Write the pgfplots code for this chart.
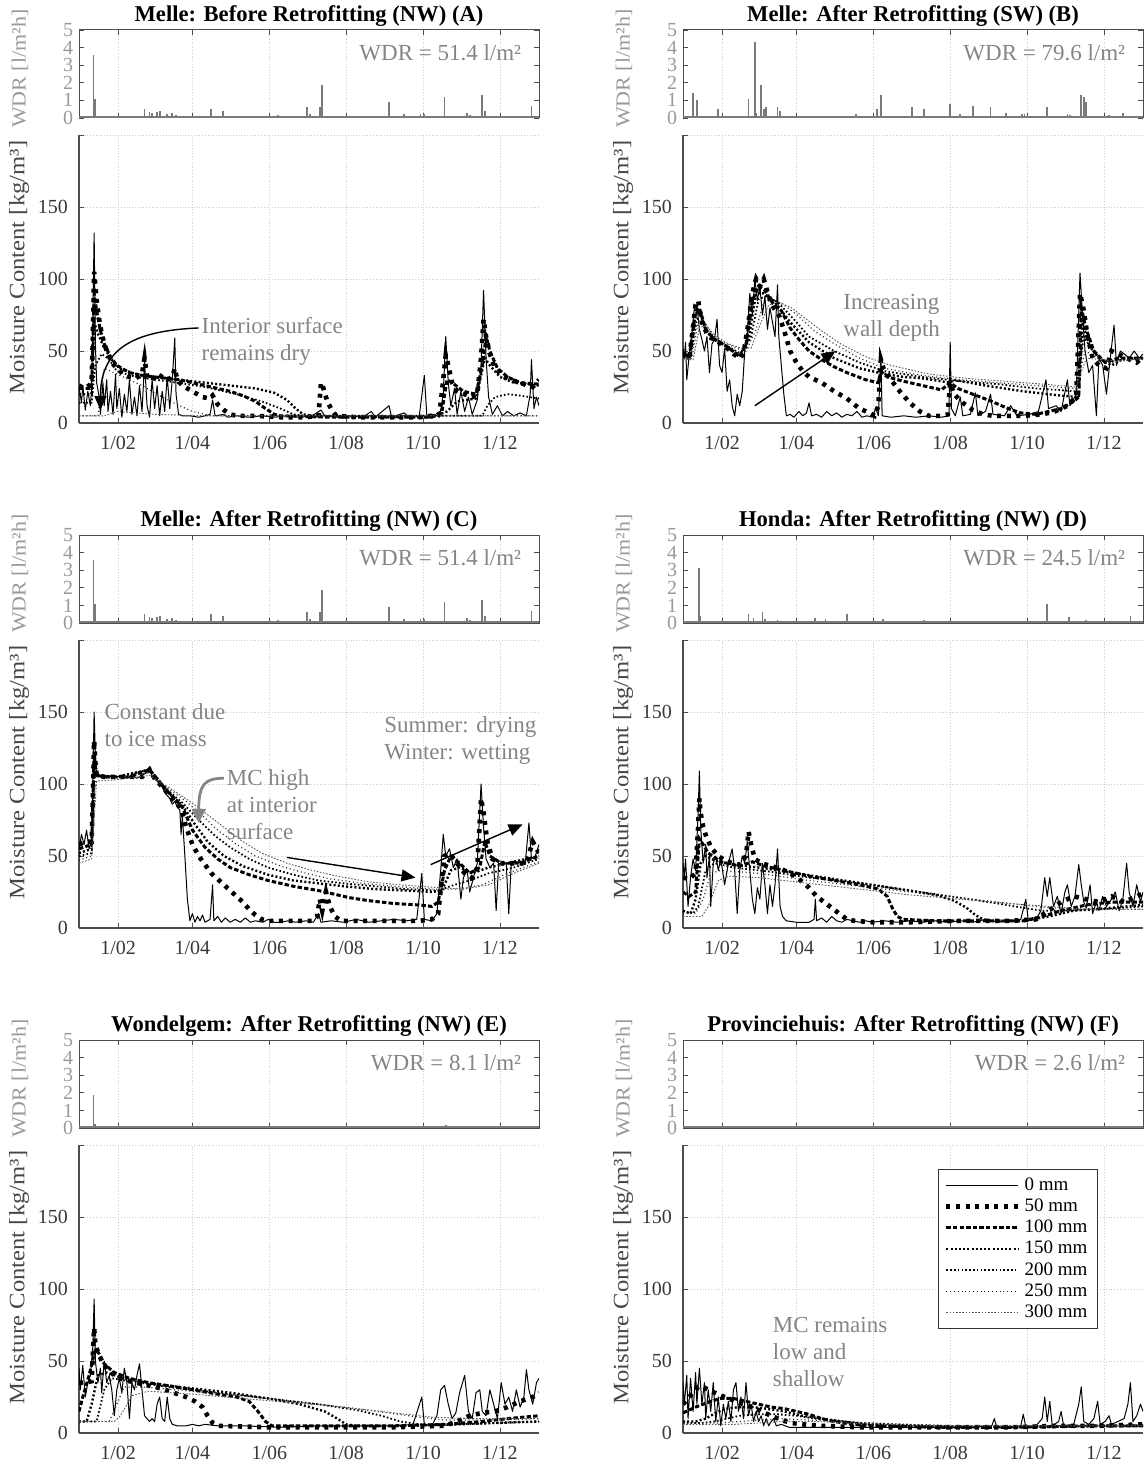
\documentclass[border=0pt]{standalone}
\usepackage{fontspec}
\setmainfont{Liberation Serif}
\usepackage{graphicx}
\usepackage{pgfplots}
\usepackage{pgfplotstable}
\pgfplotsset{compat=1.18}
\usetikzlibrary{arrows.meta}
\definecolor{bargray}{gray}{0.48}
\definecolor{axgray}{gray}{0.30}
\definecolor{notegray}{gray}{0.52}

% hourly wind-driven rain, Melle NW (panels A and C)
\pgfplotstableread{
d v
11.5 3.6
13 1.1
52 0.5
56 0.35
58 0.3
62 0.35
64 0.4
70 0.2
74 0.3
77 0.15
105 0.5
114 0.4
155 0.1
158 0.15
181 0.6
183 0.25
191 0.6
193 1.9
232 0.1
246 0.9
258 0.2
266 0.1
271 0.25
274 0.2
290 1.2
308 0.3
310 0.15
320 1.3
322 0.4
340 0.05
359 0.7
}\wdrNW

\pgfplotsset{
  base/.style={scale only axis, width=230pt, xmin=0, xmax=365,
    xtick={31,90,151,212,273,334}, tick align=inside, major tick length=2.5pt,
    /pgf/number format/assume math mode=true, clip mode=individual,
    grid style={gray!40, densely dotted, line width=0.4pt}},
  wdr/.style={base, anchor=north west, height=44pt, ymin=0, ymax=5,
    ytick={0,1,2,3,4,5}, xticklabels={}, xmajorgrids,
    axis line style={axgray, line width=0.5pt},
    every tick/.style={axgray, line width=0.4pt},
    yticklabel style={font=\fontsize{10}{10}\selectfont, text=black!40, inner sep=0.2pt, xshift=-2.5pt},
    ylabel={\scalebox{1.1}[1]{WDR [l/m²h]}},
    ylabel style={at={(axis description cs:-0.128,0.56)}, anchor=center,
      font=\fontsize{10}{12}\selectfont, text=black!40}},
  mc/.style={base, anchor=south west, height=144pt, ymin=0, ymax=200,
    ytick={0,50,100,150,200}, yticklabels={0,50,100,150,},
    xticklabels={1/02,1/04,1/06,1/08,1/10,1/12}, grid=major,
    axis x line*=bottom, axis y line*=left,
    axis line style={axgray, line width=0.6pt},
    every tick/.style={axgray, line width=0.4pt},
    ticklabel style={font=\fontsize{10}{10}\selectfont, text=black!78},
    xticklabel style={yshift=-3pt}, yticklabel style={xshift=-2pt},
    ylabel={\scalebox{1.12}[1]{Moisture Content [kg/m³]}},
    ylabel style={at={(axis description cs:-0.13,0.54)}, anchor=center,
      font=\fontsize{11}{13}\selectfont, text=black!72}},
  wdrbar/.style={ycomb, bargray, line width=0.9pt},
  wdrbase/.style={bargray, line width=1pt},
  s0/.style={black, line width=0.5pt, line join=round},
  s50/.style={black, line width=2.3pt, dash pattern=on 2pt off 2.8pt},
  s100/.style={black, line width=1.5pt, dash pattern=on 2.2pt off 1.1pt},
  s150/.style={black, line width=1.2pt, dash pattern=on 1pt off 1.1pt},
  s200/.style={black, line width=0.9pt, dash pattern=on 0.8pt off 1.1pt},
  s250/.style={black!85, line width=0.6pt, dash pattern=on 0.5pt off 1.4pt},
  s300/.style={black!65, line width=0.45pt, dash pattern=on 0.8pt off 0.8pt},
}
\tikzset{
  ptitle/.style={font=\bfseries\fontsize{11.3}{13}\selectfont},
  wdrtxt/.style={anchor=east, font=\fontsize{11.5}{13}\selectfont, text=notegray, inner sep=0pt},
  note/.style={anchor=west, align=left, font=\fontsize{11.5}{13.5}\selectfont, text=notegray, inner sep=0pt},
  blackarrow/.style={black, line width=0.7pt, -{Triangle[length=7pt,width=6pt]}},
}

\begin{document}
\begin{tikzpicture}
\path[use as bounding box] (0,0) rectangle (572pt,-732.5pt);

% ================= A =================
\node[ptitle] at (154.5pt,-8pt) {Melle: Before Retrofitting (NW) (A)};
\begin{axis}[wdr, at={(39.5pt,-15pt)}]
\addplot[wdrbar] table[x=d,y=v] {\wdrNW};
\addplot[wdrbase] coordinates {(0,0.04) (365,0.04)};
\node[wdrtxt] at (axis description cs:0.962,0.74) {WDR = 51.4 l/m²};
\end{axis}
\begin{axis}[mc, at={(39.5pt,-211.5pt)}]
\addplot[s0] coordinates {(0,25)(2,14)(3,26)(5,9)(7,22)(9,12)(10,24)(11,70)(12,132)(13,55)(14,28)(16,18)(17,6)(19,28)(20,12)(22,30)(23,8)(25,22)(27,6)(29,34)(30,10)(32,24)(34,4)(36,20)(38,8)(40,30)(42,6)(44,18)(46,5)(48,26)(50,8)(52,42)(54,12)(56,4)(58,30)(60,10)(62,26)(64,5)(66,22)(68,8)(70,32)(72,10)(74,30)(76,59)(77,20)(79,6)(82,5)(88,5)(95,4)(100,5)(104,6)(106,16)(108,5)(115,6)(118,4)(125,5)(135,4)(145,5)(155,4)(165,5)(175,4)(185,5)(192,9)(195,5)(205,4)(215,5)(225,4)(232,8)(235,4)(246,12)(248,4)(258,7)(262,4)(270,5)(274,33)(276,5)(282,6)(286,4)(289,20)(291,60)(293,28)(295,12)(298,24)(300,6)(303,22)(306,8)(309,18)(312,6)(316,16)(319,40)(321,92)(323,45)(325,18)(328,6)(332,12)(336,5)(340,8)(345,5)(350,7)(355,5)(358,20)(359,44)(361,10)(363,18)(365,12)};
\addplot[s50] coordinates {(0,26)(4,24)(8,26)(10,28)(11,60)(12,105)(13,95)(14,85)(16,72)(18,62)(20,55)(23,48)(26,42)(30,38)(35,34)(40,32)(45,31)(50,34)(52,45)(54,32)(58,30)(62,34)(66,32)(70,30)(74,32)(76,38)(78,30)(82,26)(90,22)(98,18)(104,17)(106,19)(110,13)(115,9)(120,6)(125,5)(140,5)(160,4)(180,4)(190,5)(192,28)(194,24)(197,15)(200,10)(204,5)(220,4)(250,4)(270,4)(280,5)(286,6)(289,30)(291,47)(293,40)(296,28)(300,22)(306,20)(312,18)(316,20)(319,45)(321,72)(323,60)(326,48)(330,38)(336,33)(342,30)(350,28)(356,26)(360,25)(365,30)};
\addplot[s100] coordinates {(0,24)(10,24)(12,90)(14,78)(17,64)(20,55)(25,46)(30,40)(40,35)(50,33)(60,32)(70,31)(80,30)(90,28)(100,26)(110,24)(120,22)(130,19)(140,15)(148,10)(155,6)(160,5)(200,4)(280,4)(288,8)(292,30)(296,28)(305,22)(315,20)(320,40)(323,60)(326,50)(332,38)(340,32)(350,28)(365,27)};
\addplot[s150] coordinates {(0,20)(10,20)(12,70)(15,62)(20,52)(26,44)(32,38)(45,34)(60,32)(80,30)(100,28)(120,26)(140,24)(155,21)(165,16)(172,10)(178,6)(185,5)(280,4)(292,8)(300,15)(315,17)(322,45)(326,40)(334,32)(345,28)(365,26)};
\addplot[s200] coordinates {(0,14)(10,14)(13,40)(18,48)(24,44)(30,36)(45,32)(70,29)(100,25)(125,20)(145,15)(160,10)(170,6)(180,5)(300,5)(320,5)(324,12)(330,18)(340,20)(350,19)(365,17)};
\addplot[s250] coordinates {(0,5)(15,5)(20,38)(30,34)(50,26)(70,16)(90,8)(105,5)(365,5)};
\addplot[s300] coordinates {(0,5)(20,5)(30,8)(60,6)(100,5)(365,5)};
\node[note] at (axis cs:97,57) {Interior surface\\remains dry};
\draw[blackarrow] (axis cs:95,66) .. controls (axis cs:40,64) and (axis cs:17,50) .. (axis cs:17,9);
\end{axis}

% ================= B =================
\node[ptitle] at (456.5pt,-8pt) {Melle: After Retrofitting (SW) (B)};
\begin{axis}[wdr, at={(341.5pt,-15pt)}]
\addplot[wdrbar] coordinates {(8,1.4)(11,1.0)(28,0.5)(52,1.1)(57,4.3)(58,0.3)(62,1.9)(64,0.5)(66,0.6)(75,0.6)(77,0.4)(86,0.1)(137,0.2)(154,0.5)(157,1.3)(182,0.6)(191,0.5)(212,0.8)(220,0.2)(230,0.7)(244,0.6)(256,0.3)(269,0.2)(271,0.2)(289,0.6)(305,0.2)(307,0.15)(316,1.3)(318,1.2)(320,0.9)(338,0.15)(349,0.3)};
\addplot[wdrbase] coordinates {(0,0.04) (365,0.04)};
\node[wdrtxt] at (axis description cs:0.962,0.74) {WDR = 79.6 l/m²};
\end{axis}
\begin{axis}[mc, at={(341.5pt,-211.5pt)}]
\addplot[s0] coordinates {(0,52)(1,45)(2,56)(3,30)(5,48)(7,62)(9,80)(11,82)(13,65)(15,58)(17,50)(19,60)(21,35)(23,55)(25,58)(27,72)(29,40)(31,35)(33,52)(35,22)(37,30)(39,12)(41,5)(43,20)(45,12)(47,22)(49,50)(51,62)(53,90)(55,75)(57,100)(59,85)(61,95)(63,75)(65,88)(67,65)(69,80)(71,70)(73,60)(75,96)(76,60)(78,40)(80,20)(82,5)(85,6)(88,4)(92,8)(95,5)(98,7)(100,14)(102,5)(106,6)(110,4)(114,8)(118,5)(122,7)(126,4)(130,6)(134,5)(138,8)(142,4)(146,5)(150,4)(153,10)(155,5)(157,47)(158,5)(165,4)(175,5)(185,4)(195,5)(205,4)(211,5)(212,56)(213,10)(216,5)(220,18)(222,5)(228,6)(232,21)(234,5)(240,8)(244,20)(246,6)(255,5)(260,12)(265,5)(275,6)(282,8)(288,30)(290,10)(296,12)(300,8)(305,30)(307,12)(312,20)(315,104)(317,75)(319,50)(322,35)(325,40)(328,5)(330,45)(333,40)(336,20)(339,45)(342,68)(344,40)(347,50)(350,48)(354,45)(358,50)(362,45)(365,48)};
\addplot[s50] coordinates {(0,48)(5,45)(10,82)(12,85)(15,70)(20,60)(25,58)(30,55)(35,52)(40,48)(45,45)(48,48)(52,70)(55,90)(58,100)(61,95)(64,100)(68,88)(72,80)(76,75)(80,65)(85,50)(90,42)(95,36)(100,32)(110,28)(120,22)(130,17)(140,10)(148,7)(152,5)(155,12)(157,44)(159,38)(165,30)(172,22)(180,14)(188,8)(195,5)(205,5)(210,6)(212,28)(215,20)(222,14)(230,9)(238,6)(246,5)(260,5)(270,5)(285,6)(295,8)(305,12)(312,18)(315,90)(318,78)(321,60)(325,45)(330,40)(336,38)(340,50)(345,48)(352,45)(360,42)(365,46)};
\addplot[s100] coordinates {(0,48)(5,46)(10,78)(13,80)(18,65)(25,58)(35,53)(45,46)(50,55)(55,85)(60,95)(65,92)(72,82)(78,78)(85,66)(92,58)(100,50)(110,44)(120,39)(130,35)(145,30)(155,28)(157,36)(162,32)(175,29)(190,26)(205,23)(212,28)(218,24)(230,20)(245,15)(258,10)(268,7)(280,6)(290,8)(300,10)(310,15)(314,18)(316,80)(320,65)(326,50)(335,42)(345,45)(365,45)};
\addplot[s150] coordinates {(0,47)(5,46)(10,76)(13,78)(18,64)(25,58)(35,53)(45,47)(52,58)(58,90)(64,90)(72,85)(85,70)(100,56)(120,45)(140,38)(160,34)(175,32)(190,31)(212,28)(215,30)(240,26)(270,22)(300,19)(314,18)(317,70)(322,55)(330,45)(340,40)(350,45)(365,45)};
\addplot[s200] coordinates {(0,46)(6,46)(11,72)(14,75)(20,62)(28,57)(38,52)(46,48)(54,60)(60,86)(66,88)(75,84)(88,72)(100,60)(120,50)(140,42)(160,36)(190,32)(220,29)(250,27)(280,24)(312,22)(318,60)(325,50)(335,42)(350,44)(365,45)};
\addplot[s250] coordinates {(0,45)(7,45)(12,70)(16,72)(24,60)(32,56)(42,52)(50,50)(58,65)(64,84)(70,86)(80,82)(92,74)(104,64)(120,55)(140,45)(160,38)(190,33)(220,30)(250,28)(280,26)(312,24)(319,50)(330,45)(340,42)(365,45)};
\addplot[s300] coordinates {(0,44)(8,44)(13,66)(18,68)(26,60)(36,55)(46,52)(54,52)(62,70)(68,82)(76,84)(86,80)(98,72)(110,64)(125,55)(145,46)(165,40)(195,34)(225,31)(255,29)(285,27)(312,25)(320,45)(332,44)(345,43)(365,45)};
\node[note] at (axis cs:127,73) {Increasing\\wall depth};
\draw[blackarrow] (axis cs:57,12) -- (axis cs:121,50);
\end{axis}

% ================= C =================
\node[ptitle] at (154.5pt,-260.5pt) {Melle: After Retrofitting (NW) (C)};
\begin{axis}[wdr, at={(39.5pt,-267.5pt)}]
\addplot[wdrbar] table[x=d,y=v] {\wdrNW};
\addplot[wdrbase] coordinates {(0,0.04) (365,0.04)};
\node[wdrtxt] at (axis description cs:0.962,0.74) {WDR = 51.4 l/m²};
\end{axis}
\begin{axis}[mc, at={(39.5pt,-464pt)}]
\addplot[s0] coordinates {(0,55)(2,65)(4,58)(6,68)(8,55)(10,60)(11,100)(12,150)(13,120)(14,105)(18,106)(22,104)(26,106)(30,105)(34,106)(38,104)(42,106)(46,104)(50,106)(54,108)(56,112)(58,105)(62,102)(66,98)(68,94)(70,92)(72,90)(74,86)(76,88)(78,84)(80,82)(81,65)(82,78)(84,50)(86,20)(88,5)(90,10)(92,4)(94,8)(96,5)(98,9)(100,4)(104,6)(106,30)(107,5)(110,8)(113,4)(116,7)(120,4)(124,6)(128,4)(132,7)(136,4)(140,5)(146,4)(150,6)(155,4)(160,4)(166,5)(172,4)(180,5)(186,4)(190,10)(192,4)(200,5)(210,4)(220,6)(230,4)(240,5)(250,6)(260,5)(268,6)(272,38)(274,6)(280,5)(284,10)(287,40)(289,65)(291,50)(294,55)(297,42)(300,48)(303,20)(305,35)(308,40)(310,25)(313,35)(316,45)(319,100)(321,70)(323,48)(326,42)(329,45)(331,12)(333,45)(336,44)(339,45)(341,10)(343,45)(347,46)(351,45)(354,44)(357,73)(359,48)(362,50)(365,58)};
\addplot[s50] coordinates {(0,58)(5,60)(10,60)(11,90)(12,130)(13,115)(14,106)(20,105)(30,105)(40,105)(50,105)(56,110)(60,104)(70,94)(80,84)(82,80)(85,70)(90,58)(95,50)(100,44)(105,38)(110,34)(115,30)(120,26)(125,22)(130,18)(135,13)(140,9)(145,6)(150,5)(185,5)(189,8)(191,20)(193,12)(196,25)(199,15)(203,8)(208,5)(270,5)(280,6)(285,10)(288,35)(290,50)(294,52)(300,45)(306,38)(312,35)(316,42)(319,90)(321,80)(324,60)(328,48)(334,45)(345,45)(355,45)(360,60)(365,52)};
\addplot[s100] coordinates {(0,55)(10,58)(12,120)(14,106)(20,105)(40,105)(56,110)(70,95)(82,84)(90,68)(100,56)(110,48)(120,42)(135,37)(150,33)(170,29)(190,26)(200,24)(215,21)(230,19)(250,17)(270,16)(280,15)(285,18)(290,40)(295,50)(302,45)(310,38)(318,42)(322,60)(326,50)(335,45)(350,45)(365,50)};
\addplot[s150] coordinates {(0,52)(10,55)(12,115)(15,106)(30,105)(56,110)(70,95)(82,85)(92,72)(102,60)(115,50)(130,43)(150,37)(170,33)(190,31)(210,29)(235,27)(260,26)(280,25)(288,26)(295,40)(302,42)(312,38)(325,42)(340,45)(365,50)};
\addplot[s200] coordinates {(0,50)(10,52)(12,110)(15,106)(30,105)(56,110)(70,96)(82,87)(95,75)(108,64)(120,56)(135,48)(150,42)(170,37)(190,33)(210,31)(235,29)(260,27)(285,26)(298,30)(310,33)(325,38)(345,42)(365,48)};
\addplot[s250] coordinates {(0,47)(10,50)(13,105)(30,104)(56,108)(72,96)(85,88)(98,78)(110,68)(125,58)(140,50)(160,43)(180,38)(200,34)(225,31)(250,29)(280,27)(300,27)(320,30)(340,38)(365,46)};
\addplot[s300] coordinates {(0,45)(10,48)(14,102)(30,103)(56,106)(74,96)(88,88)(100,80)(115,70)(130,60)(145,52)(165,45)(185,40)(205,36)(230,32)(255,30)(285,28)(305,27)(325,30)(345,38)(365,45)};
\node[note] at (axis cs:20,141) {Constant due\\to ice mass};
\node[note] at (axis cs:117,86) {MC high\\at interior\\surface};
\draw[notegray, line width=1.4pt, -{Triangle[length=7pt,width=7pt]}] (axis cs:115,104) .. controls (axis cs:100,104) and (axis cs:95,100) .. (axis cs:95,73);
\node[note] at (axis cs:242,130) {Summer: drying\\Winter: wetting};
\draw[blackarrow] (axis cs:165,49) -- (axis cs:267,35);
\draw[blackarrow] (axis cs:279,44) -- (axis cs:352,72);
\end{axis}

% ================= D =================
\node[ptitle] at (456.5pt,-260.5pt) {Honda: After Retrofitting (NW) (D)};
\begin{axis}[wdr, at={(341.5pt,-267.5pt)}]
\addplot[wdrbar] coordinates {(12.5,3.1)(13.5,0.4)(52,0.5)(56,0.3)(63,0.6)(65,0.2)(75,0.15)(105,0.3)(113,0.2)(130,0.5)(155,0.1)(159,0.2)(191,0.15)(220,0.1)(256,0.05)(289,1.1)(306,0.35)(320,0.15)(355,0.4)};
\addplot[wdrbase] coordinates {(0,0.04) (365,0.04)};
\node[wdrtxt] at (axis description cs:0.962,0.74) {WDR = 24.5 l/m²};
\end{axis}
\begin{axis}[mc, at={(341.5pt,-464pt)}]
\addplot[s0] coordinates {(0,45)(1,35)(2,48)(4,15)(6,35)(8,48)(10,40)(12,80)(13,109)(14,70)(16,45)(18,58)(19,35)(21,50)(22,15)(24,45)(26,50)(28,40)(30,48)(33,30)(36,45)(39,55)(41,40)(43,10)(45,40)(47,50)(49,45)(51,60)(53,40)(55,20)(57,10)(59,28)(61,20)(63,45)(65,30)(67,10)(69,30)(71,15)(73,30)(75,55)(77,15)(79,8)(82,5)(90,4)(100,4)(104,6)(105,20)(106,5)(110,7)(114,4)(118,8)(122,5)(126,4)(130,6)(135,5)(140,4)(145,5)(150,4)(160,5)(170,4)(180,5)(190,4)(200,5)(210,4)(220,5)(230,4)(240,6)(250,4)(260,5)(268,6)(272,20)(274,5)(280,6)(284,12)(287,35)(289,22)(291,35)(294,15)(297,22)(300,10)(303,25)(305,30)(308,15)(311,22)(314,44)(316,30)(318,18)(320,14)(323,30)(325,10)(328,18)(330,12)(333,22)(336,15)(340,20)(343,25)(346,12)(349,20)(352,45)(354,25)(357,15)(360,30)(363,18)(365,25)};
\addplot[s50] coordinates {(0,35)(5,34)(10,38)(12,70)(13,90)(14,80)(16,70)(19,62)(23,55)(28,50)(35,46)(45,44)(50,50)(52,67)(54,58)(57,48)(62,45)(70,43)(78,41)(85,38)(92,34)(100,28)(106,22)(112,18)(118,14)(124,10)(130,6)(136,5)(150,4)(180,4)(220,5)(260,5)(280,6)(290,12)(300,18)(310,22)(320,20)(330,18)(340,22)(350,18)(365,24)};
\addplot[s100] coordinates {(0,25)(5,22)(10,25)(13,62)(16,58)(20,52)(30,46)(45,43)(55,46)(65,43)(80,40)(100,36)(120,33)(140,30)(155,27)(162,22)(166,14)(170,8)(175,6)(200,5)(240,5)(270,5)(285,8)(300,12)(320,16)(340,18)(365,18)};
\addplot[s150] coordinates {(0,12)(6,10)(10,20)(14,45)(18,50)(25,47)(40,44)(60,42)(90,38)(120,34)(150,30)(180,26)(200,23)(215,19)(225,14)(232,9)(238,6)(245,5)(270,5)(290,8)(310,12)(340,14)(365,16)};
\addplot[s200] coordinates {(0,12)(8,10)(12,15)(18,40)(25,45)(40,42)(70,39)(100,35)(140,31)(180,26)(220,21)(250,17)(270,14)(285,12)(300,12)(330,13)(365,15)};
\addplot[s250] coordinates {(0,10)(10,10)(16,20)(22,38)(30,40)(60,38)(100,33)(140,29)(180,25)(220,21)(260,17)(290,14)(320,13)(365,13)};
\addplot[s300] coordinates {(0,8)(15,8)(20,15)(28,33)(36,36)(60,35)(100,31)(140,27)(180,23)(220,20)(260,17)(290,15)(320,13)(365,13)};
\end{axis}

% ================= E =================
\node[ptitle] at (154.5pt,-513pt) {Wondelgem: After Retrofitting (NW) (E)};
\begin{axis}[wdr, at={(39.5pt,-520pt)}]
\addplot[wdrbar] coordinates {(11.5,1.9)(13,0.2)(60,0.05)(193,0.1)(291,0.15)};
\addplot[wdrbase] coordinates {(0,0.04) (365,0.04)};
\node[wdrtxt] at (axis description cs:0.962,0.74) {WDR = 8.1 l/m²};
\end{axis}
\begin{axis}[mc, at={(39.5pt,-716.5pt)}]
\addplot[s0] coordinates {(0,45)(1,30)(3,47)(5,25)(7,35)(9,40)(11,60)(12,93)(13,50)(15,35)(17,45)(18,28)(20,50)(22,35)(24,40)(26,30)(28,12)(30,30)(32,38)(34,28)(36,45)(38,35)(40,10)(42,35)(44,30)(46,40)(48,48)(50,30)(52,12)(54,10)(56,8)(58,10)(60,8)(62,20)(64,25)(66,10)(68,8)(70,25)(72,10)(74,6)(78,5)(85,5)(90,6)(95,5)(100,6)(110,5)(130,5)(160,4)(190,5)(220,5)(250,5)(265,6)(272,25)(274,6)(280,5)(284,12)(287,30)(290,33)(293,20)(296,10)(299,14)(302,28)(306,40)(309,15)(312,10)(315,28)(318,30)(320,15)(323,12)(326,30)(329,20)(332,10)(335,35)(338,20)(341,25)(344,15)(347,30)(350,18)(353,25)(355,44)(357,30)(360,20)(363,35)(365,38)};
\addplot[s50] coordinates {(0,35)(5,35)(10,36)(11,55)(12,73)(13,62)(15,56)(18,50)(22,45)(28,40)(35,37)(45,35)(55,33)(65,31)(75,28)(85,25)(92,22)(98,18)(102,12)(106,7)(110,5)(150,4)(200,4)(250,4)(290,5)(300,8)(310,12)(320,14)(330,15)(340,18)(350,22)(360,25)(365,28)};
\addplot[s100] coordinates {(0,15)(3,25)(8,40)(13,58)(16,55)(20,48)(28,42)(40,38)(55,35)(70,33)(90,30)(110,27)(125,25)(135,22)(142,15)(148,8)(153,5)(200,5)(250,5)(290,6)(320,8)(340,10)(365,12)};
\addplot[s150] coordinates {(0,8)(6,8)(10,20)(15,40)(22,42)(35,38)(60,34)(90,31)(120,28)(150,24)(175,20)(195,15)(205,10)(212,6)(220,5)(260,5)(300,6)(330,7)(365,8)};
\addplot[s200] coordinates {(0,8)(14,8)(20,30)(26,38)(40,36)(70,32)(110,28)(150,24)(190,20)(220,16)(240,12)(255,8)(270,6)(300,6)(365,8)};
\addplot[s250] coordinates {(0,8)(24,8)(30,20)(36,32)(50,32)(90,29)(130,26)(170,22)(210,18)(245,14)(270,11)(290,9)(330,9)(365,10)};
\addplot[s300] coordinates {(0,8)(28,8)(33,12)(42,26)(55,29)(90,27)(130,24)(170,21)(210,18)(250,14)(280,11)(310,10)(365,10)};
\end{axis}

% ================= F =================
\node[ptitle] at (456.5pt,-513pt) {Provinciehuis: After Retrofitting (NW) (F)};
\begin{axis}[wdr, at={(341.5pt,-520pt)}]
\addplot[wdrbar] coordinates {(12,0.12)(14,0.05)(60,0.03)};
\addplot[wdrbase] coordinates {(0,0.04) (365,0.04)};
\node[wdrtxt] at (axis description cs:0.962,0.74) {WDR = 2.6 l/m²};
\end{axis}
\begin{axis}[mc, at={(341.5pt,-716.5pt)},
  legend style={at={(0.902,0.917)}, anchor=north east, draw=black!80, line width=0.5pt,
    fill=white, font=\fontsize{9.5}{10}\selectfont, row sep=-1.2pt, inner xsep=3pt, inner ysep=2pt},
  legend cell align=left,
  legend image code/.code={\draw[#1] (0pt,0pt)--(36pt,0pt);}]
\addplot[s0] coordinates {(0,35)(1,20)(3,40)(4,10)(6,38)(8,15)(10,42)(11,20)(13,45)(15,20)(17,35)(18,10)(20,30)(22,15)(24,35)(26,8)(28,25)(30,5)(32,20)(34,10)(36,22)(38,8)(40,30)(42,35)(44,15)(46,25)(48,10)(50,35)(52,12)(54,20)(56,8)(58,15)(60,8)(62,12)(64,5)(66,10)(68,5)(70,8)(72,10)(74,5)(78,6)(84,4)(95,4)(120,4)(150,4)(180,4)(210,4)(230,4)(245,5)(247,10)(249,4)(260,4)(268,5)(270,13)(272,4)(280,5)(285,10)(287,25)(289,8)(291,22)(293,5)(298,8)(300,15)(302,5)(310,6)(314,20)(316,32)(318,8)(322,6)(326,10)(329,22)(331,6)(335,8)(338,12)(340,6)(345,8)(350,10)(353,20)(355,35)(357,8)(360,12)(363,20)(365,15)};
\addlegendentry{0 mm}
\addplot[s50] coordinates {(0,20)(4,24)(8,28)(12,32)(16,32)(20,30)(25,28)(30,26)(36,24)(42,22)(48,20)(55,18)(62,15)(70,12)(78,9)(86,7)(95,6)(110,5)(140,4)(200,4)(260,4)(300,5)(330,5)(365,6)};
\addlegendentry{50 mm}
\addplot[s100] coordinates {(0,14)(5,16)(10,18)(16,20)(22,22)(30,24)(40,24)(50,22)(60,20)(70,18)(80,17)(90,15)(100,13)(110,10)(120,8)(135,6)(150,5)(200,4)(260,4)(320,5)(365,5)};
\addlegendentry{100 mm}
\addplot[s150] coordinates {(0,8)(10,8)(18,10)(26,14)(34,17)(45,18)(55,18)(65,17)(80,15)(95,12)(110,10)(125,8)(145,6)(170,5)(220,4)(280,4)(330,5)(365,5)};
\addlegendentry{150 mm}
\addplot[s200] coordinates {(0,7)(15,7)(25,8)(35,10)(45,12)(60,13)(75,13)(90,12)(105,10)(120,9)(140,7)(165,6)(200,5)(260,4)(320,5)(365,5)};
\addlegendentry{200 mm}
\addplot[s250] coordinates {(0,7)(30,7)(45,8)(60,9)(80,10)(100,9)(125,8)(150,7)(180,6)(220,5)(280,5)(365,5)};
\addlegendentry{250 mm}
\addplot[s300] coordinates {(0,6)(40,6)(60,7)(80,8)(105,8)(130,7)(160,6)(200,5)(260,5)(365,5)};
\addlegendentry{300 mm}
\node[note] at (axis cs:71,56) {MC remains\\low and\\shallow};
\end{axis}
\end{tikzpicture}
\end{document}
